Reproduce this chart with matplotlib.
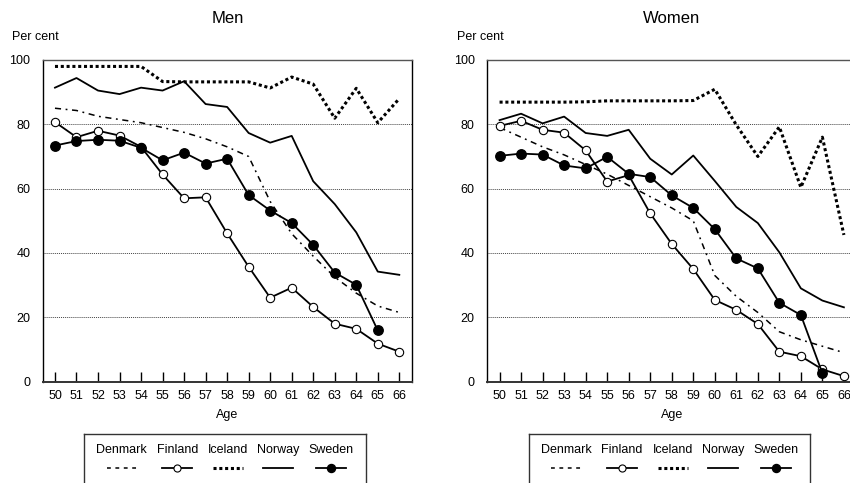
import matplotlib
matplotlib.use("Agg")
import matplotlib.pyplot as plt

plt.rcParams['font.family'] = ['Liberation Sans', 'DejaVu Sans']

W, H = 850, 483

ages = list(range(50, 67))
countries = ["Denmark", "Finland", "Iceland", "Norway", "Sweden"]

men_denmark = [85, 84.3, 82.5, 81.5, 80.5, 79, 77.5, 75.5, 73, 70, 56, 46, 39, 32.5, 27.5, 23.5, 21.5]
men_finland = [80.7, 76, 78, 76.5, 73, 64.4, 57, 57.3, 46.1, 35.7, 26.1, 29.2, 23.2, 18, 16.4, 11.8, 9.3]
men_iceland = [98, 98, 98, 98, 98, 93.3, 93.2, 93.2, 93.2, 93.2, 91.3, 94.7, 92.5, 81.9, 91.2, 80.5, 88]
men_norway = [91.4, 94.4, 90.5, 89.4, 91.4, 90.5, 93.4, 86.3, 85.4, 77.3, 74.3, 76.4, 62.3, 55.2, 46.4, 34.2, 33.2]
men_sweden = [73.4, 74.8, 75.2, 74.9, 72.7, 68.8, 71.2, 67.8, 69.3, 58, 53.2, 49.3, 42.5, 33.9, 30.1, 15.9]

women_denmark = [79, 76, 73, 70.5, 67.5, 64.5, 61, 57.5, 54, 50, 33, 26.5, 21.5, 15.5, 13, 11, 9]
women_finland = [79.5, 81.1, 78.3, 77.4, 71.9, 62.2, 64.2, 52.3, 42.8, 35, 25.4, 22.3, 17.9, 9.3, 7.9, 3.8, 1.7]
women_iceland = [86.9, 86.9, 86.9, 86.9, 87, 87.3, 87.3, 87.3, 87.3, 87.4, 90.9, 79.8, 70, 79.2, 60.4, 76, 45.6]
women_norway = [81.3, 83.3, 80.3, 82.4, 77.3, 76.4, 78.3, 69.3, 64.4, 70.3, 62.4, 54.3, 49.3, 40.2, 29, 25.2, 23.1]
women_sweden = [70.2, 70.9, 70.6, 67.2, 66.3, 69.9, 64.6, 63.6, 57.9, 54, 47.4, 38.3, 35.2, 24.5, 20.7, 2.6]

styles = {
    "Denmark": dict(color='black', lw=1.1, linestyle=(0, (4, 3, 1.2, 3))),
    "Finland": dict(color='black', lw=1.3, marker='o', ms=6, mfc='white', mec='black', mew=0.8),
    "Iceland": dict(color='black', lw=2.2, linestyle=(0, (1, 0.9)), dash_capstyle='butt'),
    "Norway": dict(color='black', lw=1.3),
    "Sweden": dict(color='black', lw=1.3, marker='o', ms=6.8, mfc='black', mec='black'),
}

fig = plt.figure(figsize=(W / 100, H / 100), dpi=100)


def panel(x0px, title, series):
    ax = fig.add_axes([x0px / W, 1 - 381.6 / H, 369.3 / W, 321.6 / H])
    ax.set_xlim(49.43, 66.59)
    ax.set_ylim(0, 100)
    for y in [20, 40, 60, 80]:
        ax.axhline(y, color='#444444', lw=0.7, linestyle=(0, (1, 1)), zorder=0)
    for name, vals in zip(countries, series):
        ax.plot(ages[:len(vals)], vals, clip_on=False, **styles[name])
    ax.set_xticks(ages)
    ax.set_yticks([0, 20, 40, 60, 80, 100])
    ax.tick_params(axis='x', direction='in', length=7, width=1, labelsize=9, pad=6)
    ax.tick_params(axis='y', length=0, labelsize=9, pad=9)
    ax.spines['bottom'].set_linewidth(1.4)
    ax.spines['bottom'].set_color('#333333')
    ax.spines['left'].set_linewidth(1.0)
    ax.spines['right'].set_linewidth(1.0)
    ax.spines['top'].set_linewidth(1.0)
    ax.spines['top'].set_color('#555555')
    ax.text(0.5, 1.13, title, transform=ax.transAxes, ha='center', va='center', fontsize=12)
    ax.text(-0.083, 1.072, "Per cent", transform=ax.transAxes, ha='left', va='center', fontsize=9)
    ax.text(0.5, -0.104, "Age", transform=ax.transAxes, ha='center', va='center', fontsize=9)
    return ax


def legend_box(x0px):
    bw = 281.4
    bh = H - 434
    lax = fig.add_axes([x0px / W, 0, bw / W, bh / H])
    lax.set_xlim(0, bw)
    lax.set_ylim(bh, 0)
    lax.set_xticks([])
    lax.set_yticks([])
    lax.patch.set_alpha(0)
    lax.spines['bottom'].set_visible(False)
    for s in ['top', 'left', 'right']:
        lax.spines[s].set_linewidth(1.0)
        lax.spines[s].set_color('#333333')
    centers = [37.4, 93, 143.7, 193.7, 246.7]
    for name, cx in zip(countries, centers):
        lax.text(cx, 16, name, ha='center', va='center', fontsize=9)
        st = dict(styles[name])
        marker = st.pop('marker', None)
        ms = st.pop('ms', None)
        mfc = st.pop('mfc', None)
        mec = st.pop('mec', None)
        mew = st.pop('mew', 1.0)
        if name == "Denmark":
            st['linestyle'] = (0, (2.5, 3))
        lax.plot([cx - 15, cx + 15], [34, 34], **st)
        if marker:
            lax.plot([cx], [34], marker=marker, ms=ms * 0.85, mfc=mfc, mec=mec, mew=mew, lw=0)


panel(42.7, "Men", [men_denmark, men_finland, men_iceland, men_norway, men_sweden])
panel(487.3, "Women", [women_denmark, women_finland, women_iceland, women_norway, women_sweden])
legend_box(84.3)
legend_box(529.0)

fig.savefig("out.png", dpi=100)
